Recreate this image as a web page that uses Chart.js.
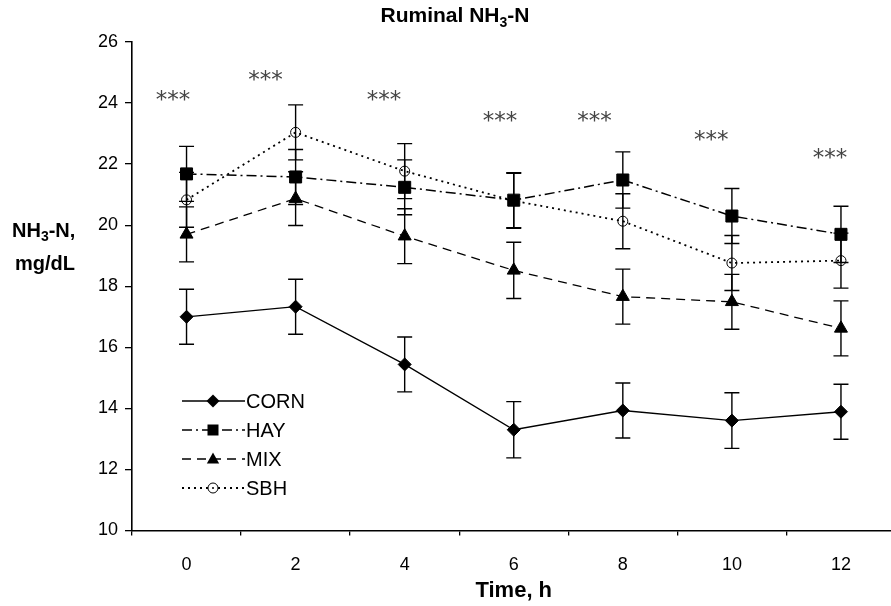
<!DOCTYPE html>
<html>
<head>
<meta charset="utf-8">
<script src="https://cdn.jsdelivr.net/npm/chart.js@4.4.1/dist/chart.umd.min.js"></script>
<style>
  html, body { margin: 0; padding: 0; background: #fff; overflow: hidden; }
  #wrap { width: 905px; height: 606px; position: relative; }
</style>
</head>
<body>
<div id="wrap"><canvas id="nh3Chart"></canvas></div>
<script>
// time points (h)
const timeLabels = ["0", "2", "4", "6", "8", "10", "12"];

// means, mg/dL
const cornMeans = [17.00, 17.33, 15.44, 13.30, 13.93, 13.60, 13.89];
const hayMeans  = [21.68, 21.58, 21.24, 20.82, 21.48, 20.30, 19.70];
const mixMeans  = [19.70, 20.87, 19.64, 18.52, 17.66, 17.49, 16.62];
const sbhMeans  = [20.83, 23.04, 21.77, 20.80, 20.13, 18.76, 18.84];

// standard errors
const cornSE = [0.90, 0.90, 0.90, 0.92, 0.90, 0.91, 0.90];
const haySE  = [0.90, 0.90, 0.90, 0.90, 0.92, 0.90, 0.92];
const mixSE  = [0.90, 0.88, 0.90, 0.92, 0.90, 0.90, 0.90];
const sbhSE  = [0.90, 0.90, 0.90, 0.90, 0.90, 0.90, 0.90];

// significance marks (hours, value)
const sigHours = [-0.25, 1.45, 3.62, 5.75, 7.48, 9.62, 11.8];
const sigLevel = [24.2, 24.85, 24.2, 23.5, 23.5, 22.9, 22.3];

const yTicks = { min: 10, max: 26, step: 2 };

const FONT = "'Liberation Sans', Arial, sans-serif";

// draw text where sub parts get subscripted
function drawRich(ctx, parts, x, y, size, align) {
  const big = "bold " + size + "px " + FONT;
  const small = "bold " + Math.round(size * 0.68) + "px " + FONT;
  let width = 0;
  parts.forEach(p => {
    ctx.font = p.sub ? small : big;
    width += ctx.measureText(p.t).width;
  });
  let cx = align === "center" ? x - width / 2 : x;
  ctx.textAlign = "left";
  ctx.textBaseline = "alphabetic";
  parts.forEach(p => {
    ctx.font = p.sub ? small : big;
    ctx.fillText(p.t, cx, p.sub ? y + size * 0.22 : y);
    cx += ctx.measureText(p.t).width;
  });
}

function drawMarker(ctx, style, x, y, r) {
  ctx.beginPath();
  if (style === "rectRot") {
    ctx.moveTo(x, y - r); ctx.lineTo(x + r, y); ctx.lineTo(x, y + r); ctx.lineTo(x - r, y);
    ctx.closePath(); ctx.fill();
  } else if (style === "rect") {
    ctx.rect(x - r, y - r, 2 * r, 2 * r); ctx.fill();
  } else if (style === "triangle") {
    ctx.moveTo(x, y - r); ctx.lineTo(x + r * 0.95, y + r * 0.7); ctx.lineTo(x - r * 0.95, y + r * 0.7);
    ctx.closePath(); ctx.fill();
  } else {
    ctx.fillStyle = "#fff";
    ctx.arc(x, y, r, 0, Math.PI * 2); ctx.fill(); ctx.stroke();
    ctx.fillStyle = "#000";
    ctx.beginPath(); ctx.arc(x, y, 1, 0, Math.PI * 2); ctx.fill();
  }
}

const errorBars = {
  id: "errorBars",
  beforeDatasetsDraw(chart) {
    const { ctx, scales: { x, y } } = chart;
    ctx.save();
    ctx.strokeStyle = "#000";
    ctx.lineWidth = 1.4;
    chart.data.datasets.forEach(ds => {
      ds.data.forEach((v, j) => {
        const px = x.getPixelForValue(j);
        const top = y.getPixelForValue(v + ds.errors[j]);
        const bot = y.getPixelForValue(v - ds.errors[j]);
        ctx.beginPath();
        ctx.moveTo(px, top); ctx.lineTo(px, bot);
        ctx.moveTo(px - 7.5, top); ctx.lineTo(px + 7.5, top);
        ctx.moveTo(px - 7.5, bot); ctx.lineTo(px + 7.5, bot);
        ctx.stroke();
      });
    });
    ctx.restore();
  }
};

const annotations = {
  id: "annotations",
  afterDraw(chart) {
    const { ctx, chartArea, scales: { x, y } } = chart;
    ctx.save();
    ctx.fillStyle = "#000";

    // title
    drawRich(ctx, [{ t: "Ruminal NH" }, { t: "3", sub: true }, { t: "-N" }], 455, 22, 21, "center");

    // y axis title, horizontal, two lines
    drawRich(ctx, [{ t: "NH" }, { t: "3", sub: true }, { t: "-N," }], 12, 237, 20, "left");
    drawRich(ctx, [{ t: "mg/dL" }], 15, 270, 20, "left");

    // x axis title, centred on the plot area
    drawRich(ctx, [{ t: "Time, h" }], (chartArea.left + chartArea.right) / 2, 597, 22, "center");

    // significance marks
    ctx.font = "23px 'DejaVu Sans', sans-serif";
    ctx.fillStyle = "#444";
    ctx.textAlign = "center";
    ctx.textBaseline = "middle";
    sigHours.forEach((h, i) => {
      ctx.fillText("***", x.getPixelForValue(h / 2), y.getPixelForValue(sigLevel[i]) + 4);
    });

    // legend
    const rows = [401, 430, 459, 488];
    chart.data.datasets.forEach((ds, i) => {
      const ly = rows[i];
      ctx.strokeStyle = "#000";
      ctx.fillStyle = "#000";
      ctx.lineWidth = ds.borderWidth;
      ctx.setLineDash(ds.borderDash);
      ctx.beginPath(); ctx.moveTo(182, ly); ctx.lineTo(245, ly); ctx.stroke();
      ctx.setLineDash([]);
      ctx.lineWidth = 1;
      drawMarker(ctx, ds.pointStyle, 213, ly, ds.pointStyle === "circle" ? 5 : ds.pointStyle === "rect" ? 5.5 : 6.5);
      ctx.fillStyle = "#000";
      ctx.font = "20px " + FONT;
      ctx.textAlign = "left";
      ctx.textBaseline = "middle";
      ctx.fillText(ds.label, 246, ly + 1);
    });
    ctx.restore();
  }
};

function makeSeries(label, data, errors, dash, width, style, radius, fill) {
  return {
    label: label,
    data: data,
    errors: errors,
    borderColor: "#000",
    borderWidth: width,
    borderDash: dash,
    pointStyle: style,
    pointRadius: radius,
    pointBackgroundColor: fill,
    pointBorderColor: "#000",
    pointBorderWidth: 1,
    tension: 0,
    fill: false
  };
}

new Chart(document.getElementById("nh3Chart"), {
  type: "line",
  data: {
    labels: timeLabels,
    datasets: [
      makeSeries("CORN", cornMeans, cornSE, [], 1.3, "rectRot", 6.5, "#000"),
      makeSeries("HAY", hayMeans, haySE, [10, 4, 2, 4], 1.5, "rect", 8.5, "#000"),
      makeSeries("MIX", mixMeans, mixSE, [9, 6], 1.3, "triangle", 7.5, "#000"),
      makeSeries("SBH", sbhMeans, sbhSE, [2, 4], 1.8, "circle", 5, "rgba(0,0,0,0)")
    ]
  },
  options: {
    responsive: true,
    maintainAspectRatio: false,
    animation: false,
    layout: { padding: { top: 42, right: 4, left: 0, bottom: 0 } },
    plugins: { legend: { display: false }, tooltip: { enabled: false }, title: { display: false } },
    scales: {
      x: {
        type: "category",
        offset: true,
        afterFit: s => { s.height = 75.5; },
        grid: { offset: true, drawOnChartArea: false, drawTicks: true, tickLength: 5, color: "#000", lineWidth: 1.3 },
        border: { color: "#000", width: 1.6 },
        ticks: { color: "#000", font: { family: FONT, size: 18 }, padding: 19, maxRotation: 0 }
      },
      y: {
        min: yTicks.min,
        max: yTicks.max,
        afterFit: s => { s.width = 132; },
        grid: { drawOnChartArea: false, drawTicks: true, tickLength: 7, color: "#000", lineWidth: 1.3 },
        border: { color: "#000", width: 1.6 },
        ticks: { stepSize: yTicks.step, color: "#000", font: { family: FONT, size: 18 }, padding: 7 }
      }
    }
  },
  plugins: [errorBars, annotations]
});
</script>
</body>
</html>
